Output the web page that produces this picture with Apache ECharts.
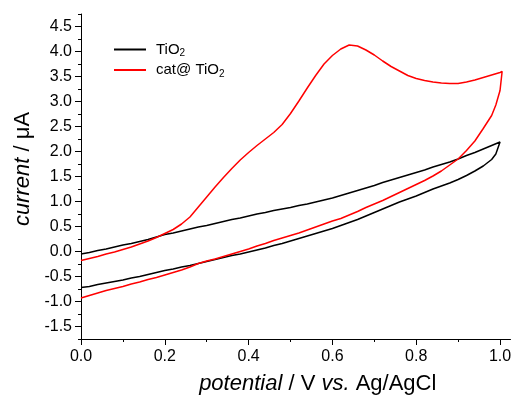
<!DOCTYPE html>
<html><head><meta charset="utf-8">
<script src="https://cdn.jsdelivr.net/npm/echarts@6/dist/echarts.min.js"></script>
<style>html,body{margin:0;padding:0;background:#fff}#c{width:516px;height:400px}</style>
</head><body><div id="c"></div>
<script>
// ---- data (potential in V, current in µA) ----
const tio2ForwardV = [0,0.02,0.04,0.06,0.08,0.10,0.12,0.14,0.16,0.18,0.20,0.22,0.24,0.26,0.28,0.30,0.32,0.34,0.36,0.38,0.40,0.42,0.44,0.46,0.48,0.50,0.52,0.54,0.56,0.58,0.60,0.62,0.64,0.66,0.68,0.70,0.72,0.74,0.76,0.78,0.80,0.82,0.84,0.86,0.88,0.90,0.92,0.94,0.96,0.98,1.00];
const tio2ForwardI = [-0.05,-0.02,0.02,0.05,0.09,0.13,0.16,0.20,0.24,0.29,0.34,0.37,0.41,0.45,0.49,0.52,0.56,0.60,0.64,0.67,0.71,0.75,0.78,0.82,0.85,0.88,0.92,0.95,0.99,1.03,1.07,1.12,1.17,1.22,1.27,1.32,1.38,1.43,1.48,1.53,1.58,1.63,1.69,1.74,1.79,1.85,1.92,1.98,2.05,2.12,2.19];
const tio2ReverseV = [0.99,0.98,0.96,0.94,0.92,0.90,0.88,0.86,0.84,0.82,0.80,0.78,0.76,0.74,0.72,0.70,0.68,0.66,0.64,0.62,0.60,0.58,0.56,0.54,0.52,0.50,0.48,0.46,0.44,0.42,0.40,0.38,0.36,0.34,0.32,0.30,0.28,0.26,0.24,0.22,0.20,0.18,0.16,0.14,0.12,0.10,0.08,0.06,0.04,0.02,0];
const tio2ReverseI = [1.95,1.84,1.71,1.61,1.52,1.44,1.37,1.31,1.25,1.18,1.11,1.05,0.99,0.92,0.85,0.78,0.71,0.64,0.58,0.52,0.46,0.41,0.36,0.31,0.26,0.21,0.16,0.12,0.07,0.03,-0.01,-0.05,-0.08,-0.12,-0.16,-0.20,-0.24,-0.28,-0.31,-0.35,-0.38,-0.42,-0.46,-0.50,-0.53,-0.57,-0.60,-0.63,-0.66,-0.70,-0.72];

const catForwardV = [0,0.02,0.04,0.06,0.08,0.10,0.12,0.14,0.16,0.18,0.20,0.22,0.24,0.26,0.28,0.30,0.32,0.34,0.36,0.38,0.40,0.42,0.44,0.46,0.48,0.50,0.52,0.54,0.56,0.58,0.60,0.62,0.64,0.66,0.68,0.70,0.72,0.74,0.76,0.78,0.80,0.82,0.84,0.86,0.88,0.90,0.92,0.94,0.96,0.98,1.00,1.005];
const catForwardI = [-0.18,-0.14,-0.10,-0.05,-0.01,0.04,0.09,0.15,0.21,0.28,0.36,0.44,0.55,0.69,0.89,1.09,1.29,1.48,1.66,1.83,1.98,2.12,2.25,2.38,2.54,2.76,3.01,3.27,3.52,3.75,3.92,4.05,4.13,4.11,4.03,3.93,3.81,3.70,3.61,3.52,3.46,3.42,3.39,3.37,3.36,3.36,3.39,3.43,3.48,3.53,3.58,3.60];
const catReverseV = [1.00,0.99,0.98,0.96,0.94,0.92,0.90,0.88,0.86,0.84,0.82,0.80,0.78,0.76,0.74,0.72,0.70,0.68,0.66,0.64,0.62,0.60,0.58,0.56,0.54,0.52,0.50,0.48,0.46,0.44,0.42,0.40,0.38,0.36,0.34,0.32,0.30,0.28,0.26,0.24,0.22,0.20,0.18,0.16,0.14,0.12,0.10,0.08,0.06,0.04,0.02,0];
const catReverseI = [3.22,2.93,2.72,2.46,2.21,2.02,1.85,1.73,1.61,1.51,1.42,1.34,1.26,1.18,1.10,1.02,0.95,0.88,0.80,0.73,0.66,0.61,0.55,0.49,0.43,0.37,0.32,0.27,0.22,0.16,0.11,0.05,0.00,-0.05,-0.10,-0.15,-0.19,-0.24,-0.31,-0.37,-0.42,-0.47,-0.52,-0.56,-0.61,-0.65,-0.70,-0.74,-0.78,-0.83,-0.88,-0.93];

const seriesNames = ['TiO2', 'cat@TiO2'];
const yMajorTicks = [-1.5,-1.0,-0.5,0,0.5,1.0,1.5,2.0,2.5,3.0,3.5,4.0,4.5];
const yMinorTicks = [-1.75,-1.5,-1.25,-1.0,-0.75,-0.5,-0.25,0,0.25,0.5,0.75,1.0,1.25,1.5,1.75,2.0,2.25,2.5,2.75,3.0,3.25,3.5,3.75,4.0,4.25,4.5,4.75];
const xMajorTicks = [0,0.2,0.4,0.6,0.8,1.0];
const xMinorTicks = [0,0.1,0.2,0.3,0.4,0.5,0.6,0.7,0.8,0.9,1.0];

function zip(a, b) { return a.map((v, i) => [v, b[i]]); }
const tio2Loop = zip(tio2ForwardV, tio2ForwardI).concat(zip(tio2ReverseV, tio2ReverseI));
const catLoop = zip(catForwardV, catForwardI).concat(zip(catReverseV, catReverseI));

const FONT = 'Liberation Sans, Arial, sans-serif';
const chart = echarts.init(document.getElementById('c'), null, {renderer: 'canvas'});
const xBase = {type: 'value', min: 0, max: 1.025, splitLine: {show: false}};
const yBase = {type: 'value', min: -1.75, max: 4.75, position: 'left', splitLine: {show: false}};
chart.setOption({
  animation: false,
  backgroundColor: '#fff',
  grid: {left: 81, right: 5.5, top: 14, bottom: 59},
  legend: {
    left: 109, top: 37, orient: 'vertical', icon: 'rect', itemWidth: 32, itemHeight: 2, itemGap: 4,
    data: seriesNames,
    formatter: n => n === 'TiO2' ? '{n|TiO}{s|2}' : '{n|cat@ TiO}{s|2}',
    textStyle: {
      fontFamily: FONT, fontSize: 15, color: '#000',
      rich: {
        n: {fontFamily: FONT, fontSize: 15, color: '#000', lineHeight: 18, padding: [0, 0, 0, 5]},
        s: {fontFamily: FONT, fontSize: 10, color: '#000', lineHeight: 9, verticalAlign: 'bottom'}
      }
    }
  },
  xAxis: [
    Object.assign({}, xBase, {
      axisLine: {show: true, onZero: false, lineStyle: {color: '#000', width: 1}},
      axisTick: {show: true, length: 3, customValues: xMinorTicks, lineStyle: {color: '#000'}},
      axisLabel: {show: false}
    }),
    Object.assign({}, xBase, {
      position: 'bottom',
      axisLine: {show: false, onZero: false},
      axisTick: {show: true, length: 6, customValues: xMajorTicks, lineStyle: {color: '#000'}},
      axisLabel: {show: true, customValues: xMajorTicks, formatter: v => v.toFixed(1), margin: 10,
                  fontFamily: FONT, fontSize: 16, color: '#000'},
      name: '{i|potential}{r| / V }{i|vs.}{r| Ag/AgCl}',
      nameLocation: 'middle', nameGap: 34,
      nameTextStyle: {
        fontFamily: FONT, fontSize: 22, color: '#000', padding: [0, 0, 0, 44],
        rich: {
          i: {fontFamily: FONT, fontSize: 22, fontStyle: 'italic', color: '#000'},
          r: {fontFamily: FONT, fontSize: 22, color: '#000'}
        }
      }
    })
  ],
  yAxis: [
    Object.assign({}, yBase, {
      axisLine: {show: true, onZero: false, lineStyle: {color: '#000', width: 1}},
      axisTick: {show: true, length: 3, customValues: yMinorTicks, lineStyle: {color: '#000'}},
      axisLabel: {show: false}
    }),
    Object.assign({}, yBase, {
      axisLine: {show: false, onZero: false},
      axisTick: {show: true, length: 6, customValues: yMajorTicks, lineStyle: {color: '#000'}},
      axisLabel: {show: true, customValues: yMajorTicks, formatter: v => v.toFixed(1), margin: 9,
                  fontFamily: FONT, fontSize: 16, color: '#000'},
      name: '{i|current}{r| / μA}',
      nameLocation: 'middle', nameGap: 45, nameRotate: 90,
      nameTextStyle: {
        fontFamily: FONT, fontSize: 22, color: '#000', padding: [0, 0, 0, 15],
        rich: {
          i: {fontFamily: FONT, fontSize: 22, fontStyle: 'italic', color: '#000'},
          r: {fontFamily: FONT, fontSize: 22, color: '#000'}
        }
      }
    })
  ],
  series: [
    {name: seriesNames[0], type: 'line', xAxisIndex: 0, yAxisIndex: 0, data: tio2Loop,
     symbol: 'none', showSymbol: false, lineStyle: {color: '#000', width: 1.5}, itemStyle: {color: '#000'}},
    {name: seriesNames[1], type: 'line', xAxisIndex: 0, yAxisIndex: 0, data: catLoop,
     symbol: 'none', showSymbol: false, lineStyle: {color: '#ff0000', width: 1.5}, itemStyle: {color: '#ff0000'}}
  ]
});
</script>
</body></html>
